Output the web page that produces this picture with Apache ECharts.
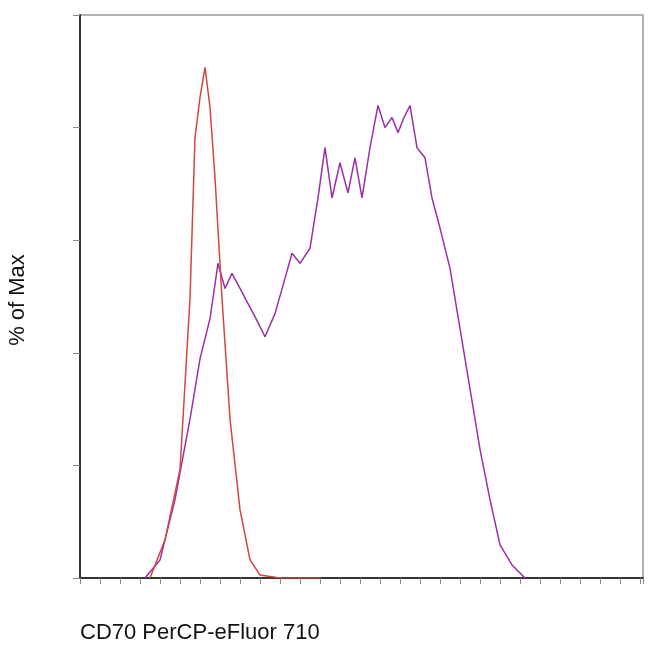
<!DOCTYPE html><html><head><meta charset="utf-8"><script src="https://cdn.jsdelivr.net/npm/echarts@6/dist/echarts.min.js"></script>
<style>html,body{margin:0;background:#fff}#c{width:650px;height:666px}</style></head><body><div id="c"></div><script>
const redX=[70,85,100,110,115,120,125,130,135,142,150,160,170,180,200,240];
const redY=[0,38,108,278,438,478,508,468,398,278,158,68,18,3,0,0];
const purX=[65,80,95,110,120,130,138,145,152,160,168,176,185,195,205,212,220,230,238,245,252,260,268,275,282,290,298,305,312,318,324,330,337,345,352,360,370,380,390,400,410,420,432,445];
const purY=[0,18,78,158,218,258,313,288,303,288,273,258,240,263,298,323,313,328,378,428,378,413,383,418,378,428,470,448,458,443,458,470,428,418,378,348,308,248,188,128,78,33,13,0];
const zip=(a,b)=>a.map((v,i)=>[v,b[i]]);
const ch=echarts.init(document.getElementById('c'));
ch.setOption({animation:false,
grid:{left:80,right:7,top:15,bottom:88,show:true,borderColor:'#999',borderWidth:1.5},
xAxis:{type:'value',min:0,max:563,interval:20,axisLabel:{show:false},splitLine:{show:false},
 axisLine:{lineStyle:{color:'#333',width:2}},axisTick:{lineStyle:{color:'#888'},length:6}},
yAxis:{type:'value',min:0,max:560,interval:112,axisLabel:{show:false},splitLine:{show:false},
 axisLine:{lineStyle:{color:'#333',width:2}},axisTick:{lineStyle:{color:'#888'},length:7}},
graphic:[{type:'text',left:80,top:622,style:{text:'CD70 PerCP-eFluor 710',font:'22px Liberation Sans',fill:'#111'}},
 {type:'text',x:18,y:300,rotation:Math.PI/2,style:{text:'% of Max',font:'22px Liberation Sans',fill:'#111',align:'center',verticalAlign:'middle'}}],
series:[{type:'line',data:zip(redX,redY),showSymbol:false,lineStyle:{color:'#d2463c',width:1.5},z:3},
{type:'line',data:zip(purX,purY),showSymbol:false,lineStyle:{color:'#9b2fa8',width:1.5},z:2}]});
</script></body></html>
